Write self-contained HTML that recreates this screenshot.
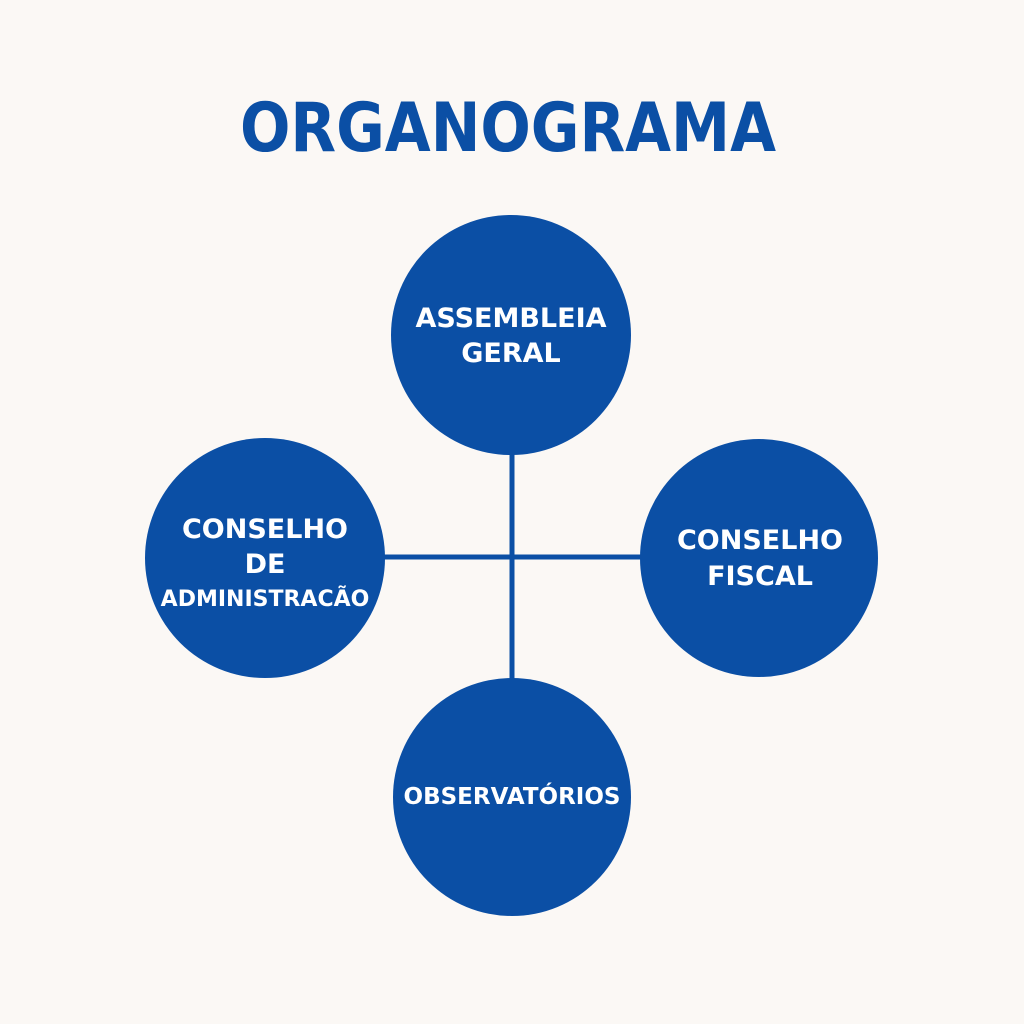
<!DOCTYPE html>
<html><head><meta charset="utf-8"><style>
html,body{margin:0;padding:0;background:#fbf8f5;}
svg{display:block}
text{font-family:"DejaVu Sans","Liberation Sans",sans-serif;font-weight:bold;fill:#fff;text-anchor:middle}
</style></head><body>
<svg width="1024" height="1024" viewBox="0 0 1024 1024">
<rect width="1024" height="1024" fill="#fbf8f5"/>
<text x="508" y="151" textLength="536" lengthAdjust="spacingAndGlyphs" style="fill:#0b4fa5;font-size:68px">ORGANOGRAMA</text>
<g stroke="#0b4fa5" stroke-width="5">
<line x1="512" y1="440" x2="512" y2="690"/>
<line x1="370" y1="557" x2="650" y2="557"/>
</g>
<g fill="#0b4fa5">
<circle cx="511" cy="335" r="120"/>
<circle cx="265" cy="558" r="120"/>
<circle cx="759" cy="558" r="119"/>
<circle cx="512" cy="797" r="119"/>
</g>
<text x="511" y="327" font-size="27">ASSEMBLEIA</text>
<text x="511" y="362" font-size="27">GERAL</text>
<text x="265" y="538" font-size="27">CONSELHO</text>
<text x="265" y="573" font-size="27">DE</text>
<text x="265" y="606" font-size="22">ADMINISTRACÃO</text>
<text x="760" y="549" font-size="27">CONSELHO</text>
<text x="760" y="585" font-size="27">FISCAL</text>
<text x="512" y="804" font-size="23">OBSERVATÓRIOS</text>
</svg>
</body></html>
